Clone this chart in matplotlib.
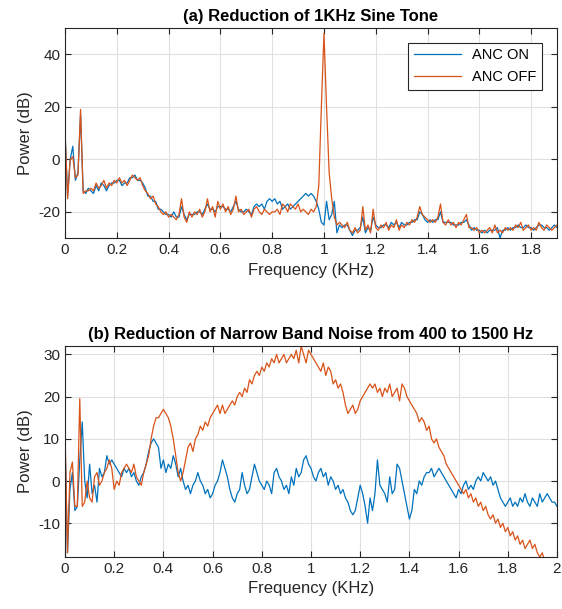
import numpy as np
import matplotlib
matplotlib.use("Agg")
import matplotlib.pyplot as plt

plt.rcParams['font.family'] = ['Liberation Sans', 'DejaVu Sans']
plt.rcParams['axes.unicode_minus'] = False

# frequency bins (KHz), 10 Hz spacing
freq_a = np.round(np.arange(0, 1.905, 0.01), 2)
freq_b = np.round(np.arange(0, 2.005, 0.01), 2)

# (a) 1 KHz sine tone, power in dB
a_off = [11, -15, 0, 1, -7, -6, 19, -13, -12, -12,
         -11, -12, -9, -11, -10, -8, -11, -9, -10, -8,
         -9, -7, -9, -8, -10, -8, -6, -7, -8, -7,
         -10, -12, -13, -15, -14, -17, -18, -20, -21, -20,
         -22, -21, -22, -23, -21, -15, -22, -24, -20, -22,
         -20, -21, -19, -22, -20, -15, -20, -18, -22, -16,
         -19, -17, -20, -18, -21, -19, -14, -20, -19, -21,
         -20, -19, -22, -19, -18, -20, -21, -19, -20, -21,
         -20, -20, -19, -21, -17, -18, -20, -17, -18, -19,
         -17, -20, -19, -20, -21, -19, -20, -18, -10, 20,
         48, 20, -5, -15, -22, -25, -24, -25, -26, -24,
         -27, -28, -26, -28, -27, -18, -27, -25, -28, -19,
         -26, -27, -25, -26, -24, -27, -25, -26, -23, -27,
         -25, -26, -24, -25, -23, -24, -22, -18, -21, -22,
         -23, -24, -23, -24, -22, -17, -24, -25, -23, -25,
         -24, -26, -24, -25, -23, -21, -26, -26, -27, -26,
         -28, -27, -28, -27, -26, -28, -25, -28, -27, -28,
         -26, -27, -26, -27, -25, -26, -24, -27, -26, -25,
         -27, -26, -27, -24, -26, -27, -25, -26, -27, -26,
         -25]
a_on = [10, -14, 0, 5, -8, -5, 17, -12, -13, -11,
        -12, -13, -10, -12, -9, -10, -12, -10, -9, -9,
        -8, -8, -10, -9, -9, -7, -7, -6, -8, -8,
        -9, -11, -14, -14, -16, -16, -19, -19, -20, -21,
        -21, -22, -20, -22, -22, -18, -21, -23, -21, -21,
        -21, -20, -20, -21, -19, -17, -19, -19, -20, -18,
        -18, -18, -19, -19, -20, -18, -16, -19, -20, -20,
        -19, -20, -21, -18, -17, -18, -17, -19, -16, -15,
        -16, -15, -17, -16, -19, -18, -17, -19, -18, -17,
        -16, -15, -14, -13, -14, -13, -14, -16, -19, -24,
        -25, -16, -23, -21, -16, -28, -25, -26, -25, -25,
        -27, -29, -27, -27, -26, -22, -28, -26, -27, -22,
        -25, -26, -26, -25, -25, -26, -24, -25, -24, -26,
        -24, -25, -25, -24, -24, -23, -23, -20, -21, -23,
        -24, -23, -24, -23, -23, -20, -24, -24, -24, -24,
        -25, -25, -25, -24, -24, -23, -25, -27, -26, -27,
        -27, -28, -27, -28, -27, -27, -27, -26, -30, -27,
        -27, -26, -27, -26, -26, -25, -26, -26, -25, -26,
        -26, -27, -26, -25, -25, -26, -26, -27, -26, -25,
        -26]

# (b) narrow band noise 400-1500 Hz, power in dB
b_off = [12, -17, 2, 4.5, -6, -6, 19.5, -6, -5, 0,
         -4, -5, 1, 2, -1, 0, 2, 3, 5, 3,
         -2, 0, -1, 2, 3, 4, 3, 2, 4, 1,
         0, -1, 2, 4, 6, 10, 13, 15, 15, 16,
         17, 16, 15, 13, 10, 6, 2, 0, 2, 5,
         8, 9, 7, 10, 11, 13, 12, 14, 13, 15,
         16, 17, 18, 16, 18, 16, 17, 18, 19, 18,
         20, 21, 20, 22, 21, 24, 23, 25, 26, 25,
         27, 26, 28, 27, 29, 28, 30, 28, 29, 30,
         28, 29, 30, 29, 31, 28, 32, 30, 28, 31,
         30, 29, 28, 27, 26, 28, 25, 27, 26, 23,
         24, 22, 23, 21, 18, 16, 17, 18, 16, 17,
         19, 20, 21, 22, 23, 22, 23, 21, 22, 20,
         22, 21, 23, 20, 21, 22, 19, 23, 22, 20,
         19, 18, 17, 16, 14, 15, 14, 12, 13, 10,
         9, 10, 8, 7, 6, 4, 3, 2, 1, 0,
         -1, -2, -3, -2, -4, -3, -5, -4, -6, -5,
         -7, -6, -8, -9, -8, -10, -9, -11, -10, -12,
         -11, -13, -12, -14, -13, -15, -14, -16, -15, -14,
         -16, -15, -17, -18, -17, -19, -19, -19, -19, -19,
         -19]
b_on = [10, -17, -2, 2, -7, -6, 5, 14, 0, -4,
        4, -3, -1, -5, 3, 1, 2, 6, 4, 5,
        4, 3, 2, 1, 3, 2, 3, 1, 2, 0,
        -1, 1, 2, 4, 7, 9, 10, 9, 8, 3,
        5, 2, 4, 3, 6, 4, 1, 3, 0, -2,
        -1, -3, -1, 0, 2, 0, -1, -3, -2, -4,
        -3, -1, 0, 2, 5, 3, 1, -2, -4, -5,
        -3, -2, 2, -1, -3, -2, 1, 4, 2, 0,
        -1, -2, 0, -1, -3, 2, 3, 1, 0, -2,
        -1, -3, 1, -1, 3, 1, 2, 5, 6, 4,
        3, 1, 0, 2, 3, 1, 2, -1, 1, 0,
        -2, -1, -3, -2, -4, -5, -7, -8, -7, -4,
        -1, -3, -6, -10, -4, -7, -3, 5, -1, -2,
        -3, -5, 1, -3, -2, 4, 3, 0, -3, -6,
        -9, -7, -2, -3, 0, -1, 1, 2, 2, 3,
        1, 2, 3, 2, 1, 0, -1, -2, -3, -4,
        -2, -3, -1, 0, -2, -1, -2, 0, 1, 0,
        2, 1, 0, 1, -1, 0, -2, -4, -5, -6,
        -5, -4, -6, -5, -6, -4, -5, -3, -5, -6,
        -4, -5, -6, -3, -5, -4, -3, -4, -5, -5,
        -6]

blue = '#0072BD'
orange = '#D95319'
axcol = '#262626'

fig = plt.figure(figsize=(5.62, 6.09), dpi=100)
ax1 = fig.add_axes([0.1157, 0.609, 0.8754, 0.345])
ax2 = fig.add_axes([0.1157, 0.0854, 0.8754, 0.3465])

def style(ax, xmax, ylim, yticks, title):
    ax.set_xlim(0, xmax)
    ax.set_ylim(*ylim)
    xt = np.round(np.arange(0, xmax + 0.001, 0.2), 1)
    ax.set_xticks(xt)
    ax.set_xticklabels([f"{t:g}" for t in xt])
    ax.set_yticks(yticks)
    ax.grid(True, color='#e0e0e0', linewidth=0.8)
    ax.set_axisbelow(True)
    ax.tick_params(direction='in', top=True, right=True, labelsize=11,
                   colors=axcol, length=4)
    for s in ax.spines.values():
        s.set_color(axcol)
        s.set_linewidth(0.8)
    ax.set_xlabel("Frequency (KHz)", fontsize=12, color=axcol)
    ax.set_ylabel("Power (dB)", fontsize=12, color=axcol)
    ax.set_title(title, fontsize=12, fontweight='bold', pad=5)

ax1.plot(freq_a, a_on, color=blue, lw=0.9, label="ANC ON")
ax1.plot(freq_a, a_off, color=orange, lw=0.9, label="ANC OFF")
style(ax1, 1.9, (-30, 50), [-20, 0, 20, 40], "(a) Reduction of 1KHz Sine Tone")
leg = ax1.legend(loc='upper right', fontsize=10.5, fancybox=False, framealpha=1,
                 edgecolor=axcol, handlelength=3.2, borderaxespad=1.0)
leg.get_frame().set_linewidth(0.8)

ax2.plot(freq_b, b_on, color=blue, lw=0.9)
ax2.plot(freq_b, b_off, color=orange, lw=0.9)
style(ax2, 2.0, (-18, 32), [-10, 0, 10, 20, 30],
      "(b) Reduction of Narrow Band Noise from 400 to 1500 Hz")

fig.savefig("out.png", dpi=100)
